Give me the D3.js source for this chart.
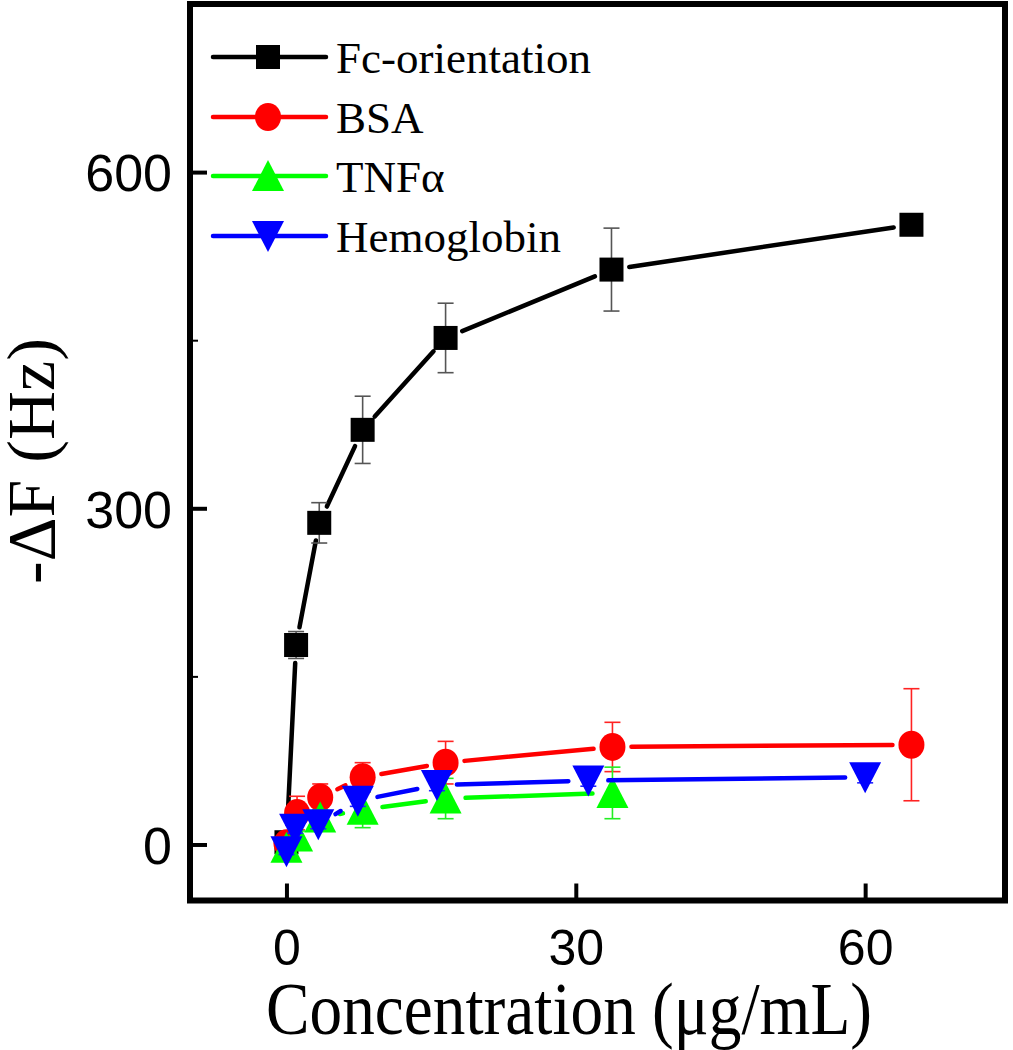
<!DOCTYPE html>
<html><head><meta charset="utf-8">
<script src="https://cdn.jsdelivr.net/npm/d3@7"></script>
<style>body{margin:0;background:#fff}svg{display:block}</style>
</head><body>
<svg id="c" width="1013" height="1050"></svg>
<script>
// ---- data ----
const seriesNames = ["Fc-orientation", "BSA", "TNFα", "Hemoglobin"];
const fcX   = [0, 1.0, 3.4, 7.9, 16.5, 33.7, 64.8];
const fcY   = [2, 178, 287, 370, 452, 513, 553];
const fcErr = [4, 12, 18, 30, 31, 37, 0];
const bsaX   = [0, 1.1, 3.5, 7.9, 16.5, 33.8, 64.8];
const bsaY   = [1, 28, 42, 60, 73, 87, 89];
const bsaErr = [3, 15, 12, 13, 19, 22, 50];
const tnfX   = [0, 1.1, 3.5, 7.9, 16.5, 33.8];
const tnfY   = [-3, 7, 24, 31, 41, 46];
const tnfErr = [3, 5, 7, 16, 18, 23];
const hemX   = [0, 0.9, 3.3, 7.4, 15.6, 31.3, 60];
const hemY   = [-6, 14, 18, 39, 53, 57, 60];
const hemErr = [3, 4, 4, 5, 5, 5, 5];
const xTicks = [0, 30, 60];
const yTicks = [0, 300, 600];
const yMinorTicks = [150, 450];

const colors = ["#000000", "#ff0000", "#00ff00", "#0000ff"];
const errColors = ["#555555", "#ff2222", "#22ee22", "#2222ff"];
const symbols = ["square", "circle", "up", "down"];

const series = [
  {name: seriesNames[0], xs: fcX, ys: fcY, es: fcErr},
  {name: seriesNames[1], xs: bsaX, ys: bsaY, es: bsaErr},
  {name: seriesNames[2], xs: tnfX, ys: tnfY, es: tnfErr},
  {name: seriesNames[3], xs: hemX, ys: hemY, es: hemErr}
];

// ---- layout ----
const L = 190, R = 1005, T = 4, B = 900.5;
const x = d3.scaleLinear().domain([-10, 74.5]).range([L, R]);
const y = d3.scaleLinear().domain([-50, 750]).range([B, T]);
const svg = d3.select("#c");

function drawSymbol(g, type, cx, cy, color) {
  if (type === "square") {
    g.append("rect").attr("x", cx - 12).attr("y", cy - 12).attr("width", 24).attr("height", 24).attr("fill", color);
  } else if (type === "circle") {
    g.append("ellipse").attr("cx", cx).attr("cy", cy).attr("rx", 13).attr("ry", 14).attr("fill", color);
  } else if (type === "up") {
    g.append("path").attr("d", `M${cx},${cy - 16} L${cx + 16},${cy + 15} L${cx - 16},${cy + 15} Z`).attr("fill", color);
  } else {
    g.append("path").attr("d", `M${cx - 16},${cy - 15} L${cx + 16},${cy - 15} L${cx},${cy + 16} Z`).attr("fill", color);
  }
}
const trim = {square: 18, circle: 19, up: 20, down: 20};

const plot = svg.append("g");
series.forEach((s, si) => {
  const g = plot.append("g");
  const pts = s.xs.map((xv, i) => ({px: x(xv), py: y(s.ys[i]), e: s.es[i], yv: s.ys[i]}));
  const tr = trim[symbols[si]];
  for (let i = 0; i < pts.length - 1; i++) {
    const a = pts[i], b = pts[i + 1];
    const dx = b.px - a.px, dy = b.py - a.py, len = Math.hypot(dx, dy);
    if (len <= 2 * tr + 2) continue;
    const ux = dx / len, uy = dy / len;
    g.append("line")
      .attr("x1", a.px + ux * tr).attr("y1", a.py + uy * tr)
      .attr("x2", b.px - ux * tr).attr("y2", b.py - uy * tr)
      .attr("stroke", colors[si]).attr("stroke-width", 4.5).attr("stroke-linecap", "round");
  }
  pts.forEach(p => {
    if (!p.e) return;
    const y1 = y(p.yv + p.e), y2 = y(p.yv - p.e);
    g.append("line").attr("x1", p.px).attr("x2", p.px).attr("y1", y1).attr("y2", y2)
      .attr("stroke", errColors[si]).attr("stroke-width", 1.6);
    [y1, y2].forEach(yy => g.append("line").attr("x1", p.px - 8).attr("x2", p.px + 8)
      .attr("y1", yy).attr("y2", yy).attr("stroke", errColors[si]).attr("stroke-width", 1.6));
  });
  pts.forEach(p => drawSymbol(g, symbols[si], p.px, p.py, colors[si]));
});

// ---- axes ----
const xAxis = d3.axisBottom(x).tickValues(xTicks).tickSize(-17).tickPadding(40).tickFormat(d3.format("d"));
const gx = svg.append("g").attr("transform", `translate(0,${B})`).call(xAxis);
gx.select(".domain").remove();
gx.selectAll(".tick line").attr("stroke", "#000").attr("stroke-width", 4);
gx.selectAll(".tick text").attr("font-family", "'Liberation Sans', Arial, sans-serif")
  .attr("font-size", 50).attr("fill", "#000").attr("dy", 0).attr("y", 64);

const yAxis = d3.axisLeft(y).tickValues(yTicks).tickSize(-17).tickPadding(0).tickFormat(d3.format("d"));
const gy = svg.append("g").attr("transform", `translate(${L},0)`).call(yAxis);
gy.select(".domain").remove();
gy.selectAll(".tick line").attr("stroke", "#000").attr("stroke-width", 4);
gy.selectAll(".tick text").attr("font-family", "'Liberation Sans', Arial, sans-serif")
  .attr("font-size", 52).attr("fill", "#000").attr("x", -18).attr("dy", "0.36em");

const yMinor = d3.axisLeft(y).tickValues(yMinorTicks).tickSize(-8).tickFormat("");
const gym = svg.append("g").attr("transform", `translate(${L},0)`).call(yMinor);
gym.select(".domain").remove();
gym.selectAll(".tick line").attr("stroke", "#000").attr("stroke-width", 2);

// frame
svg.append("rect").attr("x", L).attr("y", T).attr("width", R - L).attr("height", B - T)
  .attr("fill", "none").attr("stroke", "#000").attr("stroke-width", 6);

// titles
svg.append("text").attr("x", 569).attr("y", 1034).attr("text-anchor", "middle")
  .attr("font-family", "'Liberation Serif', 'Times New Roman', serif").attr("font-size", 74)
  .attr("textLength", 606).attr("lengthAdjust", "spacingAndGlyphs")
  .text("Concentration (μg/mL)");
svg.append("text").attr("transform", "translate(54,461) rotate(-90)").attr("text-anchor", "middle")
  .attr("font-family", "'Liberation Serif', 'Times New Roman', serif").attr("font-size", 68)
  .text("-ΔF (Hz)");

// legend
const legY = [57, 117, 176, 236];
const lg = svg.append("g");
series.forEach((s, si) => {
  const yy = legY[si];
  lg.append("line").attr("x1", 213).attr("x2", 326).attr("y1", yy).attr("y2", yy)
    .attr("stroke", colors[si]).attr("stroke-width", 4.5).attr("stroke-linecap", "round");
  drawSymbol(lg, symbols[si], 268, yy, colors[si]);
  lg.append("text").attr("x", 336).attr("y", yy + 16)
    .attr("font-family", "'Liberation Serif', 'Times New Roman', serif").attr("font-size", 45)
    .text(s.name);
});
</script>
</body></html>
